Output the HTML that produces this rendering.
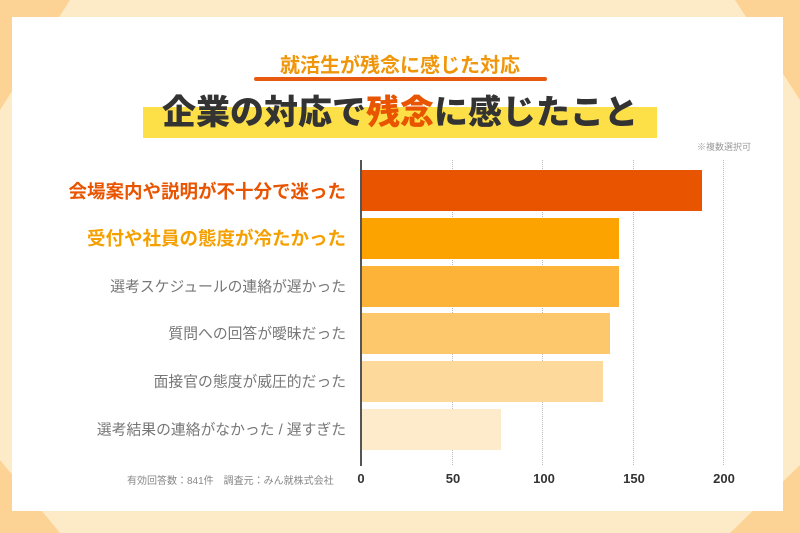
<!DOCTYPE html>
<html><head><meta charset="utf-8"><style>
body{margin:0;width:800px;height:533px;overflow:hidden;background:#fdebc8;font-family:"Liberation Sans","Noto Sans CJK JP",sans-serif;position:relative}
.a{position:absolute}
.lab{position:absolute;right:454px;white-space:nowrap;color:#777;font-size:14.8px;transform:translateY(-50%)}
.bar{position:absolute;left:362px;height:41px}
.g{position:absolute;top:160px;height:305px;border-left:1px dotted #bbb}
.t{position:absolute;top:471px;font-size:13px;font-weight:bold;color:#333;transform:translateX(-50%)}
</style></head><body>
<svg class="a" style="left:0;top:0" width="800" height="533">
<polygon points="0,0 70,0 0,110" fill="#fcd394"/>
<polygon points="735,0 800,0 800,100" fill="#fcd394"/>
<polygon points="0,460 0,533 60,533" fill="#fcd394"/>
<polygon points="800,465 800,533 730,533" fill="#fcd394"/>
</svg>
<div class="a" style="left:12px;top:17px;width:771px;height:494px;background:#fff"></div>
<div class="a" style="left:0;width:800px;top:49px;text-align:center;font-size:20px;font-weight:bold;color:#f0960a">就活生が残念に感じた対応</div>
<div class="a" style="left:254px;top:77px;width:293px;height:4px;border-radius:2px;background:#e85a10"></div>
<div class="a" style="left:143px;top:107px;width:514px;height:31px;background:#fde047"></div>
<div class="a" style="left:0;width:800px;top:85px;text-align:center;font-size:34px;font-weight:900;color:#333">企業の対応で<span style="color:#e85400">残念</span>に感じたこと</div>
<div class="a" style="left:697px;top:140px;font-size:9px;color:#999">※複数選択可</div>
<div class="g" style="left:452px"></div><div class="g" style="left:542px"></div><div class="g" style="left:633px"></div><div class="g" style="left:723px"></div>
<div class="bar" style="top:170px;width:340px;background:#e85400"></div>
<div class="bar" style="top:218px;width:257px;background:#fda300"></div>
<div class="bar" style="top:266px;width:257px;background:#fdb338"></div>
<div class="bar" style="top:313px;width:248px;background:#fdc76b"></div>
<div class="bar" style="top:361px;width:241px;background:#fdd99b"></div>
<div class="bar" style="top:409px;width:139px;background:#feebcc"></div>
<div class="a" style="left:360px;top:160px;width:2px;height:306px;background:#555"></div>
<div class="lab" style="top:191px;color:#e85400;font-weight:bold;font-size:18.5px">会場案内や説明が不十分で迷った</div>
<div class="lab" style="top:238px;color:#f5a000;font-weight:bold;font-size:18.5px">受付や社員の態度が冷たかった</div>
<div class="lab" style="top:286px">選考スケジュールの連絡が遅かった</div>
<div class="lab" style="top:333px">質問への回答が曖昧だった</div>
<div class="lab" style="top:381px">面接官の態度が威圧的だった</div>
<div class="lab" style="top:429px">選考結果の連絡がなかった / 遅すぎた</div>
<div class="t" style="left:361px">0</div><div class="t" style="left:453px">50</div><div class="t" style="left:544px">100</div><div class="t" style="left:634px">150</div><div class="t" style="left:724px">200</div>
<div class="a" style="left:127px;top:472px;font-size:10px;color:#888;white-space:nowrap">有効回答数：841件　調査元：みん就株式会社</div>
</body></html>
